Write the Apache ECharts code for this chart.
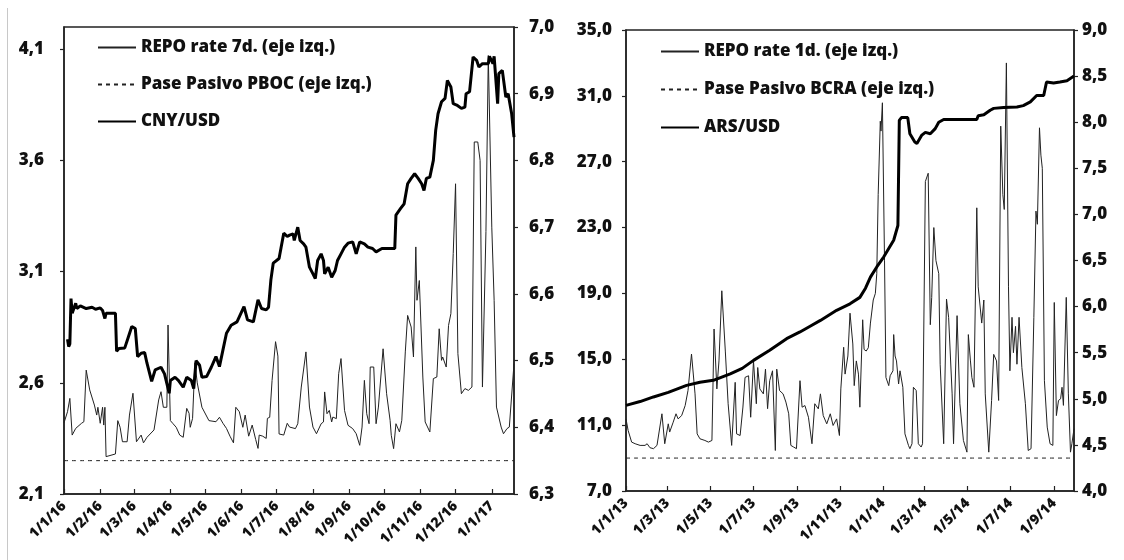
<!DOCTYPE html>
<html><head><meta charset="utf-8">
<script src="https://cdn.jsdelivr.net/npm/echarts@6/dist/echarts.min.js"></script>
<style>html,body{margin:0;padding:0;background:#fff}#c{width:1124px;height:560px}</style>
</head><body><div id="c"></div>
<script>
// ---------- data ----------
const leftStart = '2016-01-01', leftEnd = '2017-01-20';
const rightStart = '2013-01-01', rightEnd = '2014-09-29';

const leftNames = ['REPO rate 7d. (eje izq.)', 'Pase Pasivo PBOC (eje izq.)', 'CNY/USD'];
const rightNames = ['REPO rate 1d. (eje izq.)', 'Pase Pasivo BCRA (eje izq.)', 'ARS/USD'];

const leftAxisTicks = [2.1, 2.6, 3.1, 3.6, 4.1];
const leftRightAxisTicks = [6.3, 6.4, 6.5, 6.6, 6.7, 6.8, 6.9, 7.0];
const rightAxisTicks = [7, 11, 15, 19, 23, 27, 31, 35];
const rightRightAxisTicks = [4.0, 4.5, 5.0, 5.5, 6.0, 6.5, 7.0, 7.5, 8.0, 8.5, 9.0];

const pbocRate = 2.25;
const bcraRate = 9.0;

const repo7d = [
 ['2016-01-01',2.42],['2016-01-04',2.47],['2016-01-06',2.53],['2016-01-08',2.365],['2016-01-11',2.395],
 ['2016-01-16',2.418],['2016-01-18',2.425],['2016-01-20',2.657],['2016-01-23',2.568],['2016-01-27',2.50],
 ['2016-01-29',2.455],['2016-01-30',2.49],['2016-02-01',2.418],['2016-02-03',2.49],['2016-02-04',2.41],
 ['2016-02-05',2.49],['2016-02-06',2.268],['2016-02-14',2.28],['2016-02-16',2.43],['2016-02-18',2.40],
 ['2016-02-20',2.335],['2016-02-24',2.335],['2016-02-26',2.455],['2016-02-29',2.553],['2016-03-03',2.335],
 ['2016-03-07',2.365],['2016-03-09',2.33],['2016-03-12',2.355],['2016-03-18',2.388],['2016-03-22',2.523],
 ['2016-03-24',2.56],['2016-03-26',2.49],['2016-03-29',2.49],['2016-03-30',2.86],['2016-04-01',2.43],
 ['2016-04-03',2.418],['2016-04-06',2.40],['2016-04-09',2.365],['2016-04-12',2.355],['2016-04-15',2.485],
 ['2016-04-17',2.463],['2016-04-18',2.40],['2016-04-20',2.44],['2016-04-22',2.69],['2016-04-24',2.60],
 ['2016-04-28',2.49],['2016-05-04',2.43],['2016-05-10',2.425],['2016-05-13',2.445],['2016-05-16',2.418],
 ['2016-05-19',2.395],['2016-05-22',2.36],['2016-05-25',2.33],['2016-05-27',2.49],['2016-05-30',2.47],
 ['2016-06-02',2.40],['2016-06-04',2.455],['2016-06-07',2.36],['2016-06-10',2.41],['2016-06-13',2.345],
 ['2016-06-15',2.305],['2016-06-16',2.365],['2016-06-19',2.36],['2016-06-22',2.35],['2016-06-23',2.44],
 ['2016-06-25',2.445],['2016-06-27',2.61],['2016-06-30',2.785],['2016-07-02',2.72],['2016-07-03',2.37],
 ['2016-07-07',2.365],['2016-07-10',2.418],['2016-07-12',2.401],['2016-07-17',2.394],['2016-07-19',2.416],
 ['2016-07-22',2.581],['2016-07-26',2.739],['2016-07-29',2.491],['2016-08-01',2.401],['2016-08-04',2.371],
 ['2016-08-08',2.416],['2016-08-10',2.424],['2016-08-11',2.559],['2016-08-13',2.461],['2016-08-15',2.476],
 ['2016-08-17',2.424],['2016-08-18',2.446],['2016-08-21',2.439],['2016-08-23',2.641],['2016-08-25',2.709],
 ['2016-08-28',2.476],['2016-08-31',2.409],['2016-09-04',2.394],['2016-09-07',2.371],['2016-09-10',2.319],
 ['2016-09-12',2.401],['2016-09-14',2.611],['2016-09-16',2.461],['2016-09-18',2.416],['2016-09-19',2.671],
 ['2016-09-22',2.671],['2016-09-24',2.416],['2016-09-26',2.491],['2016-09-30',2.753],['2016-10-03',2.551],
 ['2016-10-06',2.431],['2016-10-07',2.364],['2016-10-09',2.304],['2016-10-11',2.416],['2016-10-14',2.379],
 ['2016-10-16',2.431],['2016-10-19',2.739],['2016-10-21',2.903],['2016-10-24',2.851],['2016-10-26',2.716],
 ['2016-10-28',3.211],['2016-10-29',2.971],['2016-10-31',3.06],['2016-11-03',2.626],['2016-11-05',2.424],
 ['2016-11-09',2.379],['2016-11-12',2.619],['2016-11-15',2.626],['2016-11-17',2.843],['2016-11-19',2.701],
 ['2016-11-20',2.716],['2016-11-23',2.671],['2016-11-25',2.858],['2016-11-27',2.911],['2016-11-29',3.181],
 ['2016-12-01',3.495],['2016-12-03',2.731],['2016-12-06',2.551],['2016-12-09',2.574],['2016-12-12',2.566],
 ['2016-12-15',2.581],['2016-12-17',3.683],['2016-12-20',3.683],['2016-12-22',3.60],['2016-12-24',2.581],
 ['2016-12-27',3.28],['2016-12-29',4.072],['2017-01-01',3.30],['2017-01-03',2.971],['2017-01-05',2.491],
 ['2017-01-09',2.401],['2017-01-11',2.371],['2017-01-14',2.394],['2017-01-16',2.401],['2017-01-20',2.686]
];

const cnyUsd = [
 ['2016-01-04',6.532],['2016-01-05',6.521],['2016-01-06',6.525],['2016-01-07',6.593],['2016-01-08',6.571],
 ['2016-01-11',6.586],['2016-01-12',6.578],['2016-01-15',6.582],['2016-01-20',6.578],['2016-01-25',6.580],
 ['2016-01-28',6.577],['2016-02-01',6.579],['2016-02-03',6.575],['2016-02-05',6.563],['2016-02-06',6.571],
 ['2016-02-14',6.571],['2016-02-15',6.514],['2016-02-17',6.518],['2016-02-22',6.519],['2016-02-25',6.535],
 ['2016-02-28',6.551],['2016-03-02',6.548],['2016-03-04',6.506],['2016-03-07',6.511],['2016-03-10',6.512],
 ['2016-03-12',6.496],['2016-03-16',6.469],['2016-03-19',6.486],['2016-03-24',6.49],['2016-03-27',6.48],
 ['2016-03-31',6.451],['2016-04-01',6.470],['2016-04-05',6.475],['2016-04-08',6.470],['2016-04-12',6.460],
 ['2016-04-15',6.475],['2016-04-19',6.470],['2016-04-21',6.458],['2016-04-23',6.50],['2016-04-26',6.493],
 ['2016-04-28',6.475],['2016-05-02',6.476],['2016-05-06',6.49],['2016-05-10',6.506],['2016-05-13',6.491],
 ['2016-05-16',6.516],['2016-05-19',6.541],['2016-05-23',6.553],['2016-05-28',6.558],['2016-06-03',6.581],
 ['2016-06-06',6.561],['2016-06-11',6.558],['2016-06-15',6.591],['2016-06-18',6.578],['2016-06-22',6.576],
 ['2016-06-24',6.58],['2016-06-26',6.621],['2016-06-28',6.646],['2016-07-03',6.653],['2016-07-07',6.691],
 ['2016-07-10',6.686],['2016-07-12',6.688],['2016-07-15',6.69],['2016-07-16',6.68],['2016-07-19',6.70],
 ['2016-07-21',6.68],['2016-07-24',6.675],['2016-07-26',6.67],['2016-07-29',6.64],['2016-08-01',6.63],
 ['2016-08-03',6.623],['2016-08-05',6.65],['2016-08-08',6.66],['2016-08-10',6.65],['2016-08-11',6.63],
 ['2016-08-14',6.64],['2016-08-17',6.625],['2016-08-20',6.635],['2016-08-22',6.65],['2016-08-25',6.66],
 ['2016-08-28',6.67],['2016-08-31',6.676],['2016-09-04',6.678],['2016-09-07',6.66],['2016-09-10',6.678],
 ['2016-09-14',6.675],['2016-09-17',6.67],['2016-09-21',6.668],['2016-09-24',6.663],['2016-09-29',6.668],
 ['2016-10-10',6.668],['2016-10-11',6.718],['2016-10-15',6.728],['2016-10-18',6.735],['2016-10-21',6.765],
 ['2016-10-24',6.773],['2016-10-27',6.78],['2016-10-30',6.773],['2016-11-02',6.765],['2016-11-04',6.755],
 ['2016-11-06',6.773],['2016-11-09',6.775],['2016-11-12',6.80],['2016-11-14',6.845],['2016-11-16',6.87],
 ['2016-11-19',6.888],['2016-11-22',6.893],['2016-11-24',6.92],['2016-11-27',6.91],['2016-11-29',6.885],
 ['2016-12-02',6.883],['2016-12-06',6.878],['2016-12-09',6.88],['2016-12-10',6.90],['2016-12-13',6.903],
 ['2016-12-16',6.955],['2016-12-19',6.95],['2016-12-21',6.94],['2016-12-24',6.945],['2016-12-29',6.945],
 ['2016-12-30',6.956],['2017-01-02',6.945],['2017-01-03',6.956],['2017-01-06',6.885],['2017-01-07',6.93],
 ['2017-01-10',6.935],['2017-01-13',6.895],['2017-01-15',6.90],['2017-01-18',6.87],['2017-01-20',6.835]
];

const repo1d = [
 ['2013-01-01',11.38],['2013-01-04',10.68],['2013-01-09',9.97],['2013-01-14',9.87],['2013-01-21',9.77],
 ['2013-01-28',9.77],['2013-01-31',9.87],['2013-02-04',9.63],['2013-02-09',9.57],['2013-02-14',9.77],
 ['2013-02-21',11.69],['2013-02-25',9.87],['2013-03-02',11.08],['2013-03-04',10.58],['2013-03-09',11.18],
 ['2013-03-13',11.69],['2013-03-16',11.38],['2013-03-21',11.58],['2013-03-26',12.19],['2013-03-30',13.10],
 ['2013-04-04',15.32],['2013-04-09',12.9],['2013-04-12',10.47],['2013-04-16',10.17],['2013-04-23',10.07],
 ['2013-04-28',9.97],['2013-05-03',10.07],['2013-05-06',16.84],['2013-05-10',13.2],['2013-05-13',14.9],
 ['2013-05-17',19.16],['2013-05-22',15.5],['2013-05-26',12.3],['2013-05-31',9.77],['2013-06-05',13.6],
 ['2013-06-07',10.47],['2013-06-12',10.37],['2013-06-16',12.1],['2013-06-19',13.9],['2013-06-24',14.0],
 ['2013-06-27',11.48],['2013-07-01',14.9],['2013-07-05',12.3],['2013-07-07',14.5],['2013-07-10',13.2],
 ['2013-07-15',12.9],['2013-07-18',14.4],['2013-07-21',12.0],['2013-07-24',13.7],['2013-07-28',14.3],
 ['2013-08-01',9.46],['2013-08-03',14.4],['2013-08-07',13.1],['2013-08-12',12.9],['2013-08-16',12.4],
 ['2013-08-20',11.69],['2013-08-23',9.77],['2013-08-27',9.67],['2013-08-31',9.57],['2013-09-05',13.7],
 ['2013-09-08',12.09],['2013-09-12',12.19],['2013-09-17',11.48],['2013-09-22',9.87],['2013-09-26',12.3],
 ['2013-10-01',11.99],['2013-10-04',12.9],['2013-10-08',11.58],['2013-10-13',11.08],['2013-10-18',11.69],
 ['2013-10-22',10.98],['2013-10-27',11.38],['2013-10-31',10.37],['2013-11-02',13.2],['2013-11-06',15.73],
 ['2013-11-08',14.1],['2013-11-12',15.2],['2013-11-15',17.8],['2013-11-19',15.93],['2013-11-21',13.4],
 ['2013-11-24',14.9],['2013-11-27',14.1],['2013-11-29',12.09],['2013-12-03',17.4],['2013-12-05',15.6],
 ['2013-12-08',15.5],['2013-12-11',15.7],['2013-12-14',17.2],['2013-12-18',18.6],['2013-12-21',19.0],
 ['2013-12-23',20.2],['2013-12-25',25.0],['2013-12-28',29.46],['2013-12-29',28.86],['2013-12-31',30.58],
 ['2014-01-03',20.98],['2014-01-05',13.9],['2014-01-09',13.4],['2014-01-11',14.0],['2014-01-15',14.3],
 ['2014-01-16',16.5],['2014-01-18',15.2],['2014-01-20',14.9],['2014-01-23',13.5],['2014-01-25',14.3],
 ['2014-01-29',13.3],['2014-02-01',10.47],['2014-02-06',9.77],['2014-02-08',9.57],['2014-02-11',9.87],
 ['2014-02-13',13.3],['2014-02-17',13.1],['2014-02-20',9.87],['2014-02-24',9.67],['2014-02-26',9.87],
 ['2014-03-02',25.8],['2014-03-04',25.9],['2014-03-06',26.3],['2014-03-09',17.1],['2014-03-11',18.76],
 ['2014-03-14',23.0],['2014-03-17',21.0],['2014-03-21',20.2],['2014-03-23',14.7],['2014-03-28',9.87],
 ['2014-04-01',18.66],['2014-04-04',17.55],['2014-04-09',12.9],['2014-04-11',9.87],['2014-04-16',17.65],
 ['2014-04-20',12.3],['2014-04-25',10.07],['2014-04-30',9.36],['2014-05-02',16.5],['2014-05-05',14.9],
 ['2014-05-07',13.9],['2014-05-10',13.3],['2014-05-14',24.2],['2014-05-16',19.4],['2014-05-21',17.2],
 ['2014-05-24',18.6],['2014-05-26',12.9],['2014-05-31',9.36],['2014-06-04',12.5],['2014-06-07',15.3],
 ['2014-06-11',14.9],['2014-06-14',12.5],['2014-06-17',29.16],['2014-06-20',25.0],['2014-06-22',24.1],
 ['2014-06-25',33.0],['2014-06-28',19.4],['2014-06-30',14.3],['2014-07-03',17.55],['2014-07-05',15.4],
 ['2014-07-08',17.0],['2014-07-10',14.7],['2014-07-13',17.55],['2014-07-17',14.5],['2014-07-22',12.3],
 ['2014-07-26',9.46],['2014-07-30',9.57],['2014-08-03',17.55],['2014-08-06',24.0],['2014-08-08',23.2],
 ['2014-08-11',29.06],['2014-08-13',27.4],['2014-08-15',26.6],['2014-08-18',13.7],['2014-08-22',10.88],
 ['2014-08-26',9.87],['2014-08-30',9.77],['2014-09-01',18.45],['2014-09-04',11.58],['2014-09-06',11.69],
 ['2014-09-07',12.5],['2014-09-10',12.6],['2014-09-12',13.3],['2014-09-14',12.2],['2014-09-18',18.76],
 ['2014-09-21',12.9],['2014-09-24',9.36],['2014-09-26',9.87],['2014-09-29',10.78]
];

const arsUsd = [
 ['2013-01-01',4.929],['2013-01-21',4.97],['2013-02-09',5.02],['2013-03-02',5.07],['2013-03-28',5.146],
 ['2013-04-16',5.18],['2013-05-05',5.20],['2013-05-29',5.27],['2013-06-15',5.33],['2013-07-01',5.417],
 ['2013-07-24',5.526],['2013-08-17',5.652],['2013-09-05',5.725],['2013-09-20',5.79],['2013-10-04',5.85],
 ['2013-10-27',5.96],['2013-11-15',6.03],['2013-11-29',6.10],['2013-12-07',6.20],['2013-12-14',6.32],
 ['2013-12-23',6.43],['2014-01-02',6.54],['2014-01-16',6.72],['2014-01-22',6.88],['2014-01-24',8.02],
 ['2014-01-27',8.05],['2014-02-05',8.05],['2014-02-08',7.875],['2014-02-15',7.785],['2014-02-18',7.77],
 ['2014-02-25',7.86],['2014-03-02',7.89],['2014-03-09',7.875],['2014-03-16',7.93],['2014-03-21',8.00],
 ['2014-03-28',8.03],['2014-05-14',8.03],['2014-05-16',8.07],['2014-05-24',8.08],['2014-06-02',8.13],
 ['2014-06-07',8.15],['2014-06-21',8.16],['2014-07-10',8.165],['2014-07-19',8.18],['2014-07-29',8.22],
 ['2014-08-07',8.29],['2014-08-17',8.29],['2014-08-21',8.436],['2014-08-31',8.425],['2014-09-09',8.436],
 ['2014-09-19',8.45],['2014-09-29',8.50]
];

// ---------- helpers ----------
function dayList(a, b) {
  const out = [];
  const [ya, ma, da] = a.split('-').map(Number);
  const [yb, mb, db] = b.split('-').map(Number);
  let t = Date.UTC(ya, ma - 1, da);
  const end = Date.UTC(yb, mb - 1, db);
  while (t <= end) { out.push(new Date(t).toISOString().slice(0, 10)); t += 86400000; }
  return out;
}
function onDays(days, pairs) {
  const m = new Map(pairs);
  return days.map(d => (m.has(d) ? m.get(d) : null));
}
const fmtDate = s => { const p = s.split('-'); return (+p[2]) + '/' + (+p[1]) + '/' + p[0].slice(2); };
const fmtNum = v => Number(v).toFixed(1).replace('.', ',');

const leftDays = dayList(leftStart, leftEnd);
const rightDays = dayList(rightStart, rightEnd);

const FONT = '"Open Sans", "Noto Sans", sans-serif';
const INK = '#111';
const labelStyle = { fontFamily: FONT, fontWeight: 800, fontSize: 17, color: INK };
const legendText = { fontFamily: FONT, fontWeight: 800, fontSize: 17, color: INK };

function xAxis(gridIndex, days, monthFilter) {
  const pick = (i, v) => v.endsWith('-01') && monthFilter(+v.slice(5, 7));
  return {
    type: 'category', gridIndex, data: days, boundaryGap: false,
    axisLine: { show: true, lineStyle: { color: '#222', width: 1.5 } },
    axisTick: { show: true, inside: true, length: 5, interval: pick, lineStyle: { color: '#222', width: 1.2 } },
    axisLabel: { interval: pick, rotate: 45, margin: 10, formatter: fmtDate,
      fontFamily: FONT, fontWeight: 800, fontSize: 14, color: INK },
    splitLine: { show: false }
  };
}
function yAxis(gridIndex, position, min, max, interval, ticks, margin) {
  return {
    type: 'value', gridIndex, position, min, max, interval,
    axisLine: { show: true, lineStyle: { color: '#222', width: 1.5 } },
    axisTick: { show: true, inside: false, length: 4, customValues: ticks, lineStyle: { color: '#222', width: 1.2 } },
    axisLabel: Object.assign({ margin, formatter: fmtNum, customValues: ticks }, labelStyle),
    splitLine: { show: false }
  };
}

const thin = { width: 1, color: '#222' };
const dash = { width: 1, color: '#222', type: [4, 4] };
const thick = { width: 3, color: '#000' };

const option = {
  animation: false,
  backgroundColor: '#fff',
  grid: [
    { left: 64, top: 27, width: 450, height: 467, show: true, borderColor: '#222', borderWidth: 1.5, backgroundColor: 'transparent' },
    { left: 626, top: 30, width: 448, height: 461, show: true, borderColor: '#222', borderWidth: 1.5, backgroundColor: 'transparent' }
  ],
  xAxis: [
    xAxis(0, leftDays, () => true),
    xAxis(1, rightDays, m => m % 2 === 1)
  ],
  yAxis: [
    yAxis(0, 'left', 2.1, 4.2, 0.5, leftAxisTicks, 20),
    yAxis(0, 'right', 6.3, 7.0, 0.1, leftRightAxisTicks, 15),
    yAxis(1, 'left', 7, 35, 4, rightAxisTicks, 14),
    yAxis(1, 'right', 4, 9, 0.5, rightRightAxisTicks, 8)
  ],
  legend: [
    { left: 92, top: 34, orient: 'vertical', itemWidth: 38, itemHeight: 20, itemGap: 20,
      data: leftNames, textStyle: legendText, selectedMode: false, itemStyle: { opacity: 0 } },
    { left: 655, top: 38, orient: 'vertical', itemWidth: 38, itemHeight: 20, itemGap: 21,
      data: rightNames, textStyle: legendText, selectedMode: false, itemStyle: { opacity: 0 } }
  ],
  series: [
    { name: leftNames[0], type: 'line', xAxisIndex: 0, yAxisIndex: 0, data: onDays(leftDays, repo7d),
      connectNulls: true, symbol: 'none', lineStyle: thin, itemStyle: { color: thin.color } },
    { name: leftNames[1], type: 'line', xAxisIndex: 0, yAxisIndex: 0, data: leftDays.map(() => pbocRate),
      symbol: 'none', lineStyle: dash, itemStyle: { color: dash.color } },
    { name: leftNames[2], type: 'line', xAxisIndex: 0, yAxisIndex: 1, data: onDays(leftDays, cnyUsd),
      connectNulls: true, symbol: 'none', lineStyle: thick, itemStyle: { color: thick.color } },
    { name: rightNames[0], type: 'line', xAxisIndex: 1, yAxisIndex: 2, data: onDays(rightDays, repo1d),
      connectNulls: true, symbol: 'none', lineStyle: thin, itemStyle: { color: thin.color } },
    { name: rightNames[1], type: 'line', xAxisIndex: 1, yAxisIndex: 2, data: rightDays.map(() => bcraRate),
      symbol: 'none', lineStyle: dash, itemStyle: { color: dash.color } },
    { name: rightNames[2], type: 'line', xAxisIndex: 1, yAxisIndex: 3, data: onDays(rightDays, arsUsd),
      connectNulls: true, symbol: 'none', lineStyle: thick, itemStyle: { color: thick.color } }
  ],
  graphic: [
    { type: 'line', shape: { x1: 7.5, y1: 8, x2: 7.5, y2: 560 }, style: { stroke: '#c8c8c8', lineWidth: 1 }, silent: true }
  ]
};

const chart = echarts.init(document.getElementById('c'), null, { renderer: 'canvas' });
chart.setOption(option);
</script>
</body></html>
